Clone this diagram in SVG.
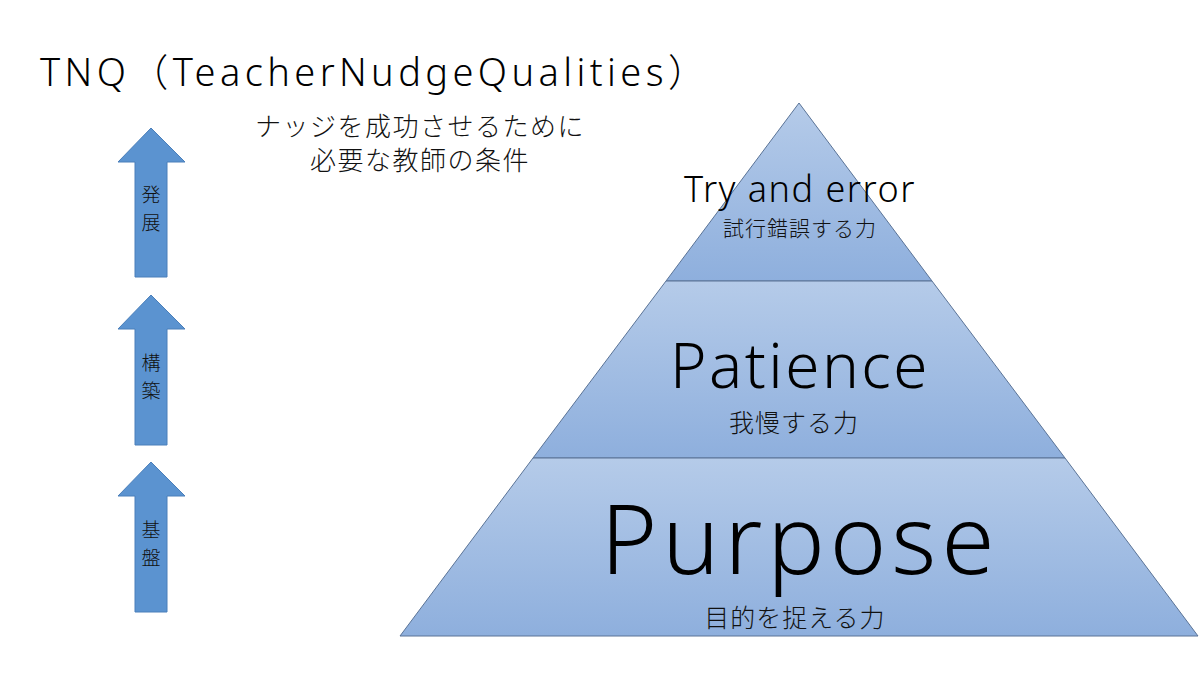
<svg xmlns="http://www.w3.org/2000/svg" width="1200" height="675" viewBox="0 0 1200 675">
<style>
.jp{font-family:"Noto Sans CJK JP","Noto Sans",sans-serif;fill:#111;font-weight:300}
.en{font-family:"Noto Sans","Noto Sans CJK JP",sans-serif;fill:#000;font-weight:300}
.band{fill:url(#g);stroke:#5a7396;stroke-width:1}
.arr{fill:#5b93d0;stroke:#4a7fba;stroke-width:1}
</style>
<defs>
<linearGradient id="g" x1="0" y1="0" x2="0" y2="1"><stop offset="0" stop-color="#b5cbe9"/><stop offset="1" stop-color="#8eafdd"/></linearGradient>
</defs>
<rect width="1200" height="675" fill="#fff"/>
<text class="en" x="40" y="86" font-size="38" letter-spacing="4.4">TNQ（TeacherNudgeQualities）</text>
<text class="jp" x="420" y="136" font-size="26" text-anchor="middle" letter-spacing="1.5">ナッジを成功させるために</text>
<text class="jp" x="420" y="170" font-size="26" text-anchor="middle" letter-spacing="1.5">必要な教師の条件</text>
<g id="arrow1"><path class="arr" d="M151,128 L185,162 L167,162 L167,277 L135,277 L135,162 L118,162 Z"/><text class="jp" x="151" y="202" font-size="19" text-anchor="middle">発</text><text class="jp" x="151" y="230" font-size="19" text-anchor="middle">展</text></g>
<g id="arrow2"><path class="arr" d="M151,295 L185,329 L167,329 L167,445 L135,445 L135,329 L118,329 Z"/><text class="jp" x="151" y="370" font-size="19" text-anchor="middle">構</text><text class="jp" x="151" y="398" font-size="19" text-anchor="middle">築</text></g>
<g id="arrow3"><path class="arr" d="M151,462 L185,496 L167,496 L167,612 L135,612 L135,496 L118,496 Z"/><text class="jp" x="151" y="537" font-size="19" text-anchor="middle">基</text><text class="jp" x="151" y="565" font-size="19" text-anchor="middle">盤</text></g>
<g id="top"><path class="band" d="M799,103 L932,281 L666,281 Z"/><text class="en" x="800" y="202" font-size="36" text-anchor="middle" letter-spacing="1.5">Try and error</text><text class="jp" x="800" y="236" font-size="21" text-anchor="middle" letter-spacing="1">試行錯誤する力</text></g>
<g id="middle"><path class="band" d="M666,281 L932,281 L1065,458 L533,458 Z"/><text class="en" x="800" y="388" font-size="62" text-anchor="middle" letter-spacing="2.5">Patience</text><text class="jp" x="794" y="432" font-size="25" text-anchor="middle" letter-spacing="1">我慢する力</text></g>
<g id="bottom"><path class="band" d="M533,458 L1065,458 L1198,636 L400,636 Z"/><text class="en" x="800" y="574" font-size="96" text-anchor="middle" letter-spacing="5">Purpose</text><text class="jp" x="795" y="627" font-size="25" text-anchor="middle" letter-spacing="1">目的を捉える力</text></g>
<g id="connectors"/>
</svg>
